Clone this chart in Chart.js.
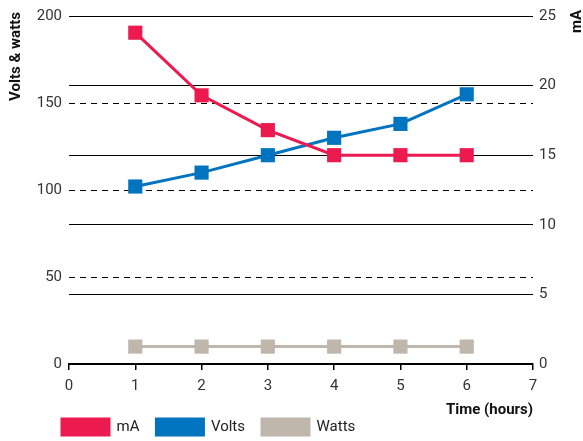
<!DOCTYPE html>
<html>
<head>
<meta charset="utf-8">
<script src="https://cdn.jsdelivr.net/npm/chart.js@4/dist/chart.umd.min.js"></script>
<style>
  html, body { margin: 0; padding: 0; background: #fff; }
  #wrap { width: 583px; height: 441px; }
</style>
</head>
<body>
<div id="wrap"><canvas id="chart"></canvas></div>
<script>
// Time in hours
const hours = [1, 2, 3, 4, 5, 6];

// series (mA on right axis, volts & watts on left)
const milliamps = [23.8, 19.3, 16.8, 15, 15, 15];
const volts = [102, 110, 120, 130, 138, 155];
const watts = [10, 10, 10, 10, 10, 10];

const leftTicks = [0, 50, 100, 150, 200];
const rightTicks = [0, 5, 10, 15, 20, 25];

const RED = "#ec1a4f";
const BLUE = "#0074bf";
const TAUPE = "#bfb6ac";
const FONT = "Roboto, 'Liberation Sans', sans-serif";

const pts = (vals) => hours.map((h, i) => ({ x: h, y: vals[i] }));

function line(label, vals, color, axis) {
  return {
    label: label,
    data: pts(vals),
    yAxisID: axis,
    borderColor: color,
    backgroundColor: color,
    borderWidth: 3,
    tension: 0,
    pointStyle: "rect",
    pointRadius: 10,
    pointHoverRadius: 10,
    pointBorderWidth: 0,
    pointBackgroundColor: color
  };
}

// rotated axis titles (reading bottom to top) + legend nudge
const sideTitles = {
  id: "sideTitles",
  afterLayout(chart) {
    const lg = chart.legend;
    lg.left += 45;
    lg.right += 45;
    lg.top -= 19;
    lg.bottom = chart.height;
  },
  afterDraw(chart) {
    const ctx = chart.ctx;
    ctx.save();
    ctx.fillStyle = "#111";
    ctx.font = "bold 15px " + FONT;
    ctx.textAlign = "right";
    ctx.textBaseline = "middle";
    ctx.translate(16, 12);
    ctx.rotate(-Math.PI / 2);
    ctx.fillText("Volts & watts", 0, 0);
    ctx.restore();

    ctx.save();
    ctx.fillStyle = "#111";
    ctx.font = "bold 15px " + FONT;
    ctx.textAlign = "right";
    ctx.textBaseline = "middle";
    ctx.translate(577, 10);
    ctx.rotate(-Math.PI / 2);
    ctx.fillText("mA", 0, 0);
    ctx.restore();
  }
};

new Chart(document.getElementById("chart"), {
  type: "line",
  data: {
    datasets: [
      line("mA", milliamps, RED, "y1"),
      line("Volts", volts, BLUE, "y"),
      line("Watts", watts, TAUPE, "y")
    ]
  },
  options: {
    responsive: true,
    maintainAspectRatio: false,
    animation: false,
    layout: { padding: { left: 0, right: 0, top: 16, bottom: 0 } },
    plugins: {
      tooltip: { enabled: false },
      legend: {
        position: "bottom",
        align: "start",
        maxHeight: 20,
        labels: {
          boxWidth: 47,
          boxHeight: 16,
          padding: 17,
          color: "#222",
          font: { family: FONT, size: 15 }
        }
      }
    },
    scales: {
      x: {
        type: "linear",
        min: 0,
        max: 7,
        afterFit: (s) => { s.height = 57; },
        ticks: {
          stepSize: 1,
          padding: 7,
          color: "#333",
          font: { family: FONT, size: 15 }
        },
        grid: {
          drawOnChartArea: false,
          drawTicks: true,
          tickLength: 6,
          color: "#000",
          lineWidth: 1.5
        },
        border: { display: true, color: "#000", width: 2 },
        title: {
          display: true,
          text: "Time (hours)",
          align: "end",
          color: "#111",
          font: { family: FONT, size: 15, weight: "bold" },
          padding: { top: 4, bottom: 2 }
        }
      },
      y: {
        position: "left",
        min: 0,
        max: 200,
        afterBuildTicks: (s) => { s.ticks = leftTicks.map(v => ({ value: v })); },
        afterFit: (s) => { s.width = 69; },
        ticks: {
          padding: 7,
          color: "#333",
          font: { family: FONT, size: 15 }
        },
        grid: {
          drawTicks: false,
          color: (c) => (c.tick && c.tick.value > 0 && c.tick.value < 200) ? "#000" : "rgba(0,0,0,0)",
          lineWidth: 1
        },
        border: { display: false, dash: [6, 5] }
      },
      y1: {
        position: "right",
        min: 0,
        max: 25,
        afterBuildTicks: (s) => { s.ticks = rightTicks.map(v => ({ value: v })); },
        afterFit: (s) => { s.width = 50; },
        ticks: {
          padding: 6,
          color: "#333",
          font: { family: FONT, size: 15 }
        },
        grid: {
          drawOnChartArea: true,
          drawTicks: false,
          color: "#000",
          lineWidth: 1
        },
        border: { display: false }
      }
    }
  },
  plugins: [sideTitles]
});
</script>
</body>
</html>
